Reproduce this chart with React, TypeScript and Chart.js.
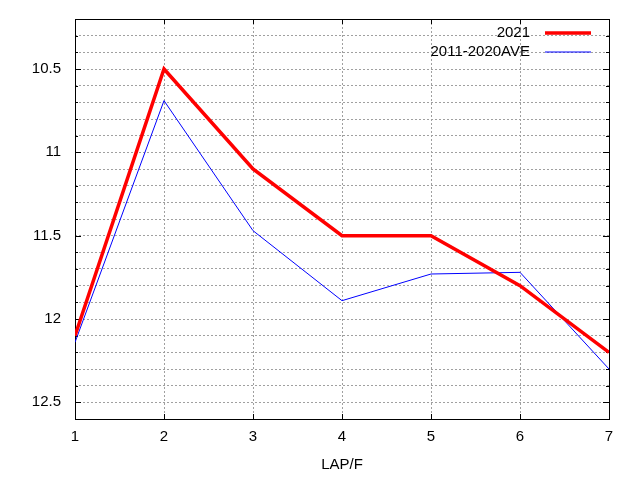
import React, { useEffect, useRef } from "react";
import { Chart, registerables } from "chart.js";

Chart.register(...registerables);

const LAPS = [1, 2, 3, 4, 5, 6, 7];
const SERIES_2021 = [12.1, 10.5, 11.1, 11.5, 11.5, 11.8, 12.2];
const SERIES_AVE = [12.14, 10.69, 11.47, 11.89, 11.73, 11.72, 12.3];
const SERIES_LABELS = ["2021", "2011-2020AVE"];
const Y_LABELS = [10.5, 11, 11.5, 12, 12.5];
const X_LABELS = [1, 2, 3, 4, 5, 6, 7];
const Y_MIN = 10.2;
const Y_MAX = 12.6;

const FONT = "'Liberation Sans', Arial, sans-serif";

const frame = {
  id: "frame",
  beforeDatasetsDraw(chart: any) {
    const { ctx, chartArea: a, scales } = chart;
    ctx.save();
    ctx.strokeStyle = "#000";
    ctx.lineWidth = 1;
    ctx.setLineDash([]);
    ctx.beginPath();
    scales.y.ticks.forEach((t: any) => {
      const y = Math.round(scales.y.getPixelForValue(t.value)) + 0.5;
      const major = Y_LABELS.some((v) => Math.abs(v - t.value) < 1e-6);
      const len = major ? 6 : 3;
      ctx.moveTo(a.left, y);
      ctx.lineTo(a.left + len, y);
      ctx.moveTo(a.right, y);
      ctx.lineTo(a.right - len, y);
    });
    scales.x.ticks.forEach((t: any) => {
      const x = Math.round(scales.x.getPixelForValue(t.value)) + 0.5;
      ctx.moveTo(x, a.top);
      ctx.lineTo(x, a.top + 5);
      ctx.moveTo(x, a.bottom);
      ctx.lineTo(x, a.bottom - 5);
    });
    ctx.stroke();
    ctx.strokeRect(
      Math.round(a.left) + 0.5,
      Math.round(a.top) + 0.5,
      Math.round(a.right - a.left),
      Math.round(a.bottom - a.top)
    );
    ctx.restore();
  },
  afterDatasetsDraw(chart: any) {
    const { ctx, chartArea: a } = chart;
    ctx.save();
    ctx.font = `15px ${FONT}`;
    ctx.textAlign = "right";
    ctx.textBaseline = "middle";
    ctx.fillStyle = "#000";
    chart.data.datasets.forEach((ds: any, i: number) => {
      const y = a.top + 14 + i * 19;
      const x2 = a.right - 18;
      const x1 = x2 - 46;
      ctx.fillText(ds.label, x1 - 15, y);
      ctx.strokeStyle = ds.borderColor;
      ctx.lineWidth = ds.borderWidth;
      ctx.beginPath();
      ctx.moveTo(x1, y);
      ctx.lineTo(x2, y);
      ctx.stroke();
    });
    ctx.restore();
  },
};

export default function App() {
  const ref = useRef<HTMLCanvasElement>(null);

  useEffect(() => {
    document.body.style.margin = "0";
    const canvas = ref.current!;
    const chart = new Chart(canvas, {
      type: "line",
      data: {
        datasets: [
          {
            label: SERIES_LABELS[0],
            data: LAPS.map((x, i) => ({ x, y: SERIES_2021[i] })),
            borderColor: "#ff0000",
            backgroundColor: "#ff0000",
            borderWidth: 3.5,
            pointRadius: 0,
            tension: 0,
          },
          {
            label: SERIES_LABELS[1],
            data: LAPS.map((x, i) => ({ x, y: SERIES_AVE[i] })),
            borderColor: "#0000ff",
            backgroundColor: "#0000ff",
            borderWidth: 1,
            pointRadius: 0,
            tension: 0,
          },
        ],
      },
      options: {
        responsive: false,
        animation: false,
        layout: { padding: { top: 19, right: 31, left: 0, bottom: 0 } },
        plugins: {
          legend: { display: false },
          tooltip: { enabled: false },
        },
        scales: {
          x: {
            type: "linear",
            min: 1,
            max: 7,
            afterFit: (s: any) => {
              s.height = 61;
              s.paddingLeft = 0;
              s.paddingRight = 0;
            },
            afterBuildTicks: (s: any) => {
              s.ticks = X_LABELS.map((v) => ({ value: v }));
            },
            ticks: {
              autoSkip: false,
              padding: 9,
              color: "#000",
              font: { family: FONT, size: 15 },
              callback: (v: any) => String(v),
            },
            grid: { color: "#a0a0a0", drawTicks: false, lineWidth: 1 },
            border: { display: false, dash: [2, 2] },
            title: {
              display: true,
              text: "LAP/F",
              color: "#000",
              font: { family: FONT, size: 15 },
              padding: { top: 0, bottom: 6 },
            },
          },
          y: {
            type: "linear",
            reverse: true,
            min: Y_MIN,
            max: Y_MAX,
            afterFit: (s: any) => {
              s.width = 75;
              s.paddingTop = 0;
              s.paddingBottom = 0;
            },
            afterBuildTicks: (s: any) => {
              const ticks: any[] = [];
              for (let k = Math.round(Y_MIN * 10); k <= Math.round(Y_MAX * 10); k++) {
                ticks.push({ value: k / 10 });
              }
              s.ticks = ticks;
            },
            ticks: {
              autoSkip: false,
              padding: 14,
              color: "#000",
              font: { family: FONT, size: 15 },
              callback: (v: any) =>
                Y_LABELS.some((l) => Math.abs(l - v) < 1e-6) ? String(Math.round(v * 10) / 10) : "",
            },
            grid: { color: "#a0a0a0", drawTicks: false, lineWidth: 1 },
            border: { display: false, dash: [2, 2] },
          },
        },
      },
      plugins: [frame],
    });
    return () => chart.destroy();
  }, []);

  return <canvas ref={ref} width={640} height={480} style={{ display: "block" }} />;
}
